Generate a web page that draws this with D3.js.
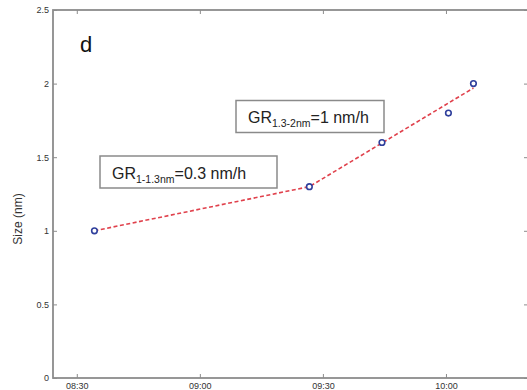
<!DOCTYPE html>
<html>
<head>
<meta charset="utf-8">
<script src="https://cdn.jsdelivr.net/npm/d3@7"></script>
<style>
  body { margin: 0; background: #fff; }
  svg { display: block; font-family: "Liberation Sans", Arial, sans-serif; }
</style>
</head>
<body>
<svg id="chart" width="527" height="390"></svg>
<script>
// measured points
const obsTimes = ["08:34:18", "09:26:42", "09:44:24", "10:00:36", "10:06:42"];
const obsSizes = [1.0, 1.3, 1.6, 1.8, 2.0];

// piecewise growth-rate fit (red dashed)
const fitTimes = ["08:34:18", "09:26:42", "10:06:42"];
const fitSizes = [1.0, 1.3, 1.97];

// axes
const xTickLabels = ["08:30", "09:00", "09:30", "10:00"];
const yTicks = [0, 0.5, 1, 1.5, 2, 2.5];
const xDomain = ["08:24:12", "10:20:00"];
const yDomain = [0, 2.5];

// annotation boxes
const boxMain = ["GR", "GR"];
const boxSub = ["1-1.3nm", "1.3-2nm"];
const boxTail = ["=0.3 nm/h", "=1 nm/h"];

const parseT = d3.timeParse("%H:%M:%S");
const parseHM = d3.timeParse("%H:%M");

const svg = d3.select("#chart");
const m = { left: 53, right: 528, top: 10, bottom: 378 };

const x = d3.scaleTime().domain(xDomain.map(parseT)).range([m.left, m.right]);
const y = d3.scaleLinear().domain(yDomain).range([m.bottom, m.top]);

const axisCol = "#8c8c8c";
const textCol = "#333";

// frame
svg.append("rect")
  .attr("x", m.left).attr("y", m.top)
  .attr("width", m.right - m.left).attr("height", m.bottom - m.top)
  .attr("fill", "none").attr("stroke", axisCol).attr("stroke-width", 1.8);

const xTickVals = xTickLabels.map(parseHM);

// bottom axis
const gx = svg.append("g").attr("transform", `translate(0,${m.bottom})`)
  .call(d3.axisBottom(x).tickValues(xTickVals).tickSize(-4).tickPadding(7)
    .tickFormat((d, i) => xTickLabels[i]));
// top axis (ticks only)
const gxt = svg.append("g").attr("transform", `translate(0,${m.top})`)
  .call(d3.axisTop(x).tickValues(xTickVals).tickSize(-4).tickFormat(""));
// left axis
const gy = svg.append("g").attr("transform", `translate(${m.left},0)`)
  .call(d3.axisLeft(y).tickValues(yTicks).tickSize(-4).tickPadding(4)
    .tickFormat(d => String(d)));
// right axis (ticks only)
const gyr = svg.append("g").attr("transform", `translate(${m.right},0)`)
  .call(d3.axisRight(y).tickValues(yTicks).tickSize(-4).tickFormat(""));

[gx, gxt, gy, gyr].forEach(g => {
  g.select(".domain").remove();
  g.selectAll(".tick line").attr("stroke", axisCol).attr("stroke-width", 1);
  g.selectAll(".tick text").attr("fill", textCol).style("font-size", "9px");
});
gx.selectAll(".tick text").attr("dy", "0.45em");

// y label
svg.append("text")
  .attr("transform", "translate(22,219) rotate(-90)")
  .attr("text-anchor", "middle")
  .attr("fill", textCol)
  .style("font-size", "12px")
  .text("Size (nm)");

// panel letter
svg.append("text")
  .attr("x", 80).attr("y", 52)
  .attr("fill", "#111")
  .style("font-size", "22px")
  .text("d");

// fit line
const fitData = fitTimes.map((t, i) => ({ t: parseT(t), v: fitSizes[i] }));
svg.append("path")
  .datum(fitData)
  .attr("fill", "none")
  .attr("stroke", "#e0414c")
  .attr("stroke-width", 1.6)
  .attr("stroke-dasharray", "4,2.5")
  .attr("d", d3.line().x(d => x(d.t)).y(d => y(d.v)));

// points
const obsData = obsTimes.map((t, i) => ({ t: parseT(t), v: obsSizes[i] }));
svg.append("g").selectAll("circle")
  .data(obsData)
  .enter()
  .append("circle")
  .attr("cx", d => x(d.t))
  .attr("cy", d => y(d.v))
  .attr("r", 2.8)
  .attr("fill", "#fff")
  .attr("stroke", "#2f3f9c")
  .attr("stroke-width", 1.6);

// annotation boxes
const boxes = [
  { x: 100, y: 156, w: 177, h: 32 },
  { x: 236, y: 100.5, w: 148, h: 32 }
];
boxes.forEach((b, i) => {
  svg.append("rect")
    .attr("x", b.x).attr("y", b.y).attr("width", b.w).attr("height", b.h)
    .attr("fill", "#fff").attr("stroke", "#8a8a8a").attr("stroke-width", 1.5);
  const t = svg.append("text")
    .attr("x", b.x + 12).attr("y", b.y + 22.5)
    .attr("fill", "#222")
    .style("font-size", "16px");
  t.append("tspan").text(boxMain[i]);
  t.append("tspan").attr("dy", 4).style("font-size", "10.5px").text(boxSub[i]);
  t.append("tspan").attr("dy", -4).text(boxTail[i]);
});
</script>
</body>
</html>
